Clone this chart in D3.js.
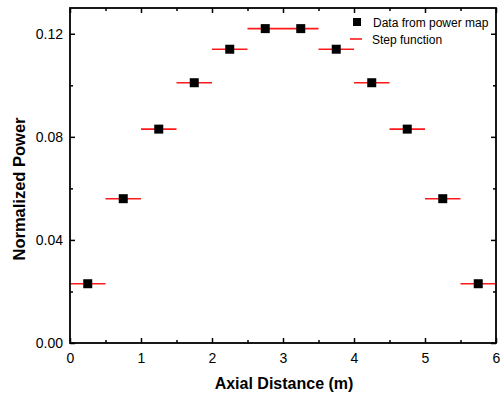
<!DOCTYPE html>
<html><head><meta charset="utf-8">
<script src="https://cdn.jsdelivr.net/npm/d3@7"></script>
<style>body{margin:0;background:#fff}svg{display:block}text{font-family:"Liberation Sans",Arial,sans-serif}</style>
</head><body>
<svg id="c" width="501" height="396"></svg>
<script>
const positions = [0.25,0.75,1.25,1.75,2.25,2.75,3.25,3.75,4.25,4.75,5.25,5.75];
const powerValues = [0.023,0.056,0.083,0.101,0.114,0.122,0.122,0.114,0.101,0.083,0.056,0.023];
const binWidth = 0.5;
const xTicks = [0,1,2,3,4,5,6];
const yTicks = [0.00,0.04,0.08,0.12];
const legendLabels = ["Data from power map","Step function"];

const svg = d3.select("#c");
const m = {l:70, r:5, t:8, b:53};
const W = 501, H = 396;
const x = d3.scaleLinear().domain([0,6]).range([m.l, W-m.r]);
const y = d3.scaleLinear().domain([0,0.13]).range([H-m.b, m.t]);

const g = svg.append("g");
// step function
g.selectAll("line.step").data(positions).enter().append("line")
  .attr("x1", (d)=>x(d-binWidth/2)).attr("x2",(d)=>x(d+binWidth/2))
  .attr("y1", (d,i)=>y(powerValues[i])).attr("y2",(d,i)=>y(powerValues[i]))
  .attr("stroke","#ff1a1a").attr("stroke-width",1.6);
// markers
const s = 9;
g.selectAll("rect.pt").data(positions).enter().append("rect")
  .attr("x",(d)=>x(d)-s/2).attr("y",(d,i)=>y(powerValues[i])-s/2)
  .attr("width",s).attr("height",s).attr("fill","#000");

// axes
function styleAxis(sel){
  sel.select(".domain").remove();
  sel.selectAll(".tick line").attr("stroke","#000").attr("stroke-width",1.5);
  sel.selectAll(".tick text").attr("font-size","14px").attr("fill","#000").attr("font-family","'Liberation Sans',Arial,sans-serif");
}
const xMinor = d3.range(0.5,6,1);
const yMinor = d3.range(0.02,0.13,0.04);

const bx = svg.append("g").attr("transform",`translate(0,${H-m.b})`)
  .call(d3.axisBottom(x).tickValues(xTicks).tickSize(-5).tickPadding(10).tickFormat(d3.format("d")));
styleAxis(bx);
const bxm = svg.append("g").attr("transform",`translate(0,${H-m.b})`)
  .call(d3.axisBottom(x).tickValues(xMinor).tickSize(-3).tickFormat(""));
styleAxis(bxm);
const tx = svg.append("g").attr("transform",`translate(0,${m.t})`)
  .call(d3.axisTop(x).tickValues(xTicks).tickSize(-5).tickFormat(""));
styleAxis(tx);
const txm = svg.append("g").attr("transform",`translate(0,${m.t})`)
  .call(d3.axisTop(x).tickValues(xMinor).tickSize(-3).tickFormat(""));
styleAxis(txm);

const ly = svg.append("g").attr("transform",`translate(${m.l},0)`)
  .call(d3.axisLeft(y).tickValues(yTicks).tickSize(-5).tickPadding(7).tickFormat(d3.format(".2f")));
styleAxis(ly);
const lym = svg.append("g").attr("transform",`translate(${m.l},0)`)
  .call(d3.axisLeft(y).tickValues(yMinor).tickSize(-3).tickFormat(""));
styleAxis(lym);
const ry = svg.append("g").attr("transform",`translate(${W-m.r},0)`)
  .call(d3.axisRight(y).tickValues(yTicks).tickSize(-5).tickFormat(""));
styleAxis(ry);
const rym = svg.append("g").attr("transform",`translate(${W-m.r},0)`)
  .call(d3.axisRight(y).tickValues(yMinor).tickSize(-3).tickFormat(""));
styleAxis(rym);

// frame
svg.append("rect").attr("x",m.l).attr("y",m.t).attr("width",W-m.l-m.r).attr("height",H-m.t-m.b)
  .attr("fill","none").attr("stroke","#000").attr("stroke-width",1.8);

// titles
svg.append("text").attr("x",(m.l+W-m.r)/2+1).attr("y",389).attr("text-anchor","middle")
  .attr("font-size","16px").attr("font-weight","bold").text("Axial Distance (m)");
svg.append("text").attr("transform",`translate(25,189) rotate(-90)`).attr("text-anchor","middle")
  .attr("font-size","16.5px").attr("font-weight","bold").text("Normalized Power");

// legend
const lg = svg.append("g");
lg.append("rect").attr("x",353).attr("y",18).attr("width",8).attr("height",8).attr("fill","#000");
lg.append("text").attr("x",373).attr("y",27).attr("font-size","12px").text(legendLabels[0]);
lg.append("line").attr("x1",350).attr("x2",362).attr("y1",39).attr("y2",39).attr("stroke","#ff1a1a").attr("stroke-width",1.6);
lg.append("text").attr("x",372).attr("y",44).attr("font-size","12px").text(legendLabels[1]);
</script>
</body></html>
